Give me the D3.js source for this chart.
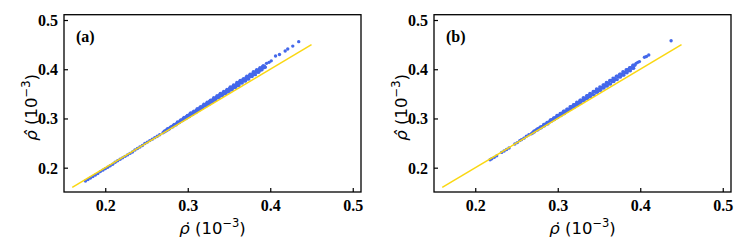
<!DOCTYPE html>
<html>
<head>
<meta charset="utf-8">
<script src="https://cdn.jsdelivr.net/npm/d3@7"></script>
<style>
  body { margin: 0; background: #fff; }
  svg { display: block; }
</style>
</head>
<body>
<div id="plot"></div>
<script>
// Reference line y = x
const lineX = [0.16, 0.45];

// Tick values
const xTicks = [0.2, 0.3, 0.4, 0.5];
const yTicks = [0.2, 0.3, 0.4, 0.5];

// Panel labels
const panelLabels = ["(a)", "(b)"];

// Scatter points for panel (a): [rho_dot, rho_hat]
const pointsA = [
  [0.176,0.173],[0.179,0.176],[0.182,0.179],[0.185,0.182],[0.188,0.185],[0.191,0.188],[0.194,0.192],
  [0.197,0.195],[0.200,0.198],[0.203,0.201],[0.206,0.204],[0.209,0.207],[0.212,0.211],[0.215,0.214],
  [0.218,0.217],[0.221,0.220],[0.224,0.223],[0.227,0.226],[0.230,0.229],[0.233,0.232],[0.236,0.236],
  [0.239,0.239],[0.242,0.242],[0.245,0.245],[0.248,0.249],[0.251,0.252],[0.254,0.255],[0.257,0.258],
  [0.260,0.261],[0.263,0.264],[0.266,0.267],
  // lower row
  [0.270,0.271],[0.274,0.275],[0.278,0.279],[0.282,0.283],[0.286,0.287],[0.290,0.292],[0.294,0.296],
  [0.298,0.300],[0.302,0.304],[0.306,0.308],[0.310,0.312],[0.314,0.317],[0.318,0.321],[0.322,0.325],
  [0.326,0.329],[0.330,0.333],[0.334,0.337],[0.338,0.342],[0.342,0.346],[0.346,0.350],[0.350,0.354],
  [0.354,0.358],[0.358,0.363],[0.362,0.367],[0.366,0.372],[0.370,0.376],[0.374,0.380],[0.378,0.385],
  [0.382,0.389],[0.386,0.394],[0.390,0.399],[0.394,0.404],
  // lower-middle row
  [0.272,0.273],[0.276,0.277],[0.280,0.282],[0.284,0.286],[0.288,0.290],[0.292,0.295],[0.296,0.299],
  [0.300,0.303],[0.304,0.308],[0.308,0.312],[0.312,0.316],[0.316,0.320],[0.320,0.325],[0.324,0.329],
  [0.328,0.333],[0.332,0.337],[0.336,0.342],[0.340,0.346],[0.344,0.350],[0.348,0.354],[0.352,0.358],
  [0.356,0.363],[0.360,0.367],[0.364,0.372],[0.368,0.376],[0.372,0.380],[0.376,0.385],[0.380,0.389],
  [0.384,0.394],[0.388,0.398],[0.392,0.403],
  // middle row
  [0.273,0.275],[0.277,0.279],[0.281,0.284],[0.285,0.288],[0.289,0.292],[0.293,0.297],[0.297,0.301],
  [0.301,0.306],[0.305,0.310],[0.309,0.314],[0.313,0.319],[0.317,0.323],[0.321,0.327],[0.325,0.331],
  [0.329,0.336],[0.333,0.340],[0.337,0.344],[0.341,0.349],[0.345,0.353],[0.349,0.357],[0.353,0.361],
  [0.357,0.366],[0.361,0.370],[0.365,0.375],[0.369,0.379],[0.373,0.383],[0.377,0.388],[0.381,0.392],
  [0.385,0.397],[0.389,0.401],[0.393,0.406],
  // upper-middle row
  [0.2745,0.277],[0.2785,0.281],[0.2825,0.286],[0.2865,0.290],[0.2905,0.295],[0.2945,0.300],[0.2985,0.304],
  [0.3025,0.309],[0.3065,0.313],[0.3105,0.317],[0.3145,0.322],[0.3185,0.326],[0.3225,0.330],[0.3265,0.335],
  [0.3305,0.339],[0.3345,0.343],[0.3385,0.348],[0.3425,0.352],[0.3465,0.356],[0.3505,0.361],[0.3545,0.365],
  [0.3585,0.369],[0.3625,0.374],[0.3665,0.378],[0.3705,0.383],[0.3745,0.387],[0.3785,0.391],[0.3825,0.396],
  [0.3865,0.400],[0.3905,0.405],
  // upper row
  [0.2715,0.274],[0.2755,0.279],[0.2795,0.283],[0.2835,0.288],[0.2875,0.293],[0.2915,0.297],[0.2955,0.302],
  [0.2995,0.306],[0.3035,0.311],[0.3075,0.315],[0.3115,0.320],[0.3155,0.324],[0.3195,0.329],[0.3235,0.333],
  [0.3275,0.337],[0.3315,0.342],[0.3355,0.346],[0.3395,0.351],[0.3435,0.355],[0.3475,0.359],[0.3515,0.364],
  [0.3555,0.368],[0.3595,0.373],[0.3635,0.377],[0.3675,0.381],[0.3715,0.386],[0.3755,0.390],[0.3795,0.395],
  [0.3835,0.399],[0.3875,0.403],[0.3915,0.407],[0.3955,0.412],
  // sparse top
  [0.3985,0.414],[0.4012,0.417],[0.4064,0.427],[0.4112,0.430],[0.4181,0.437],[0.4212,0.441],
  [0.4273,0.447],[0.4345,0.456]
];

// Scatter points for panel (b)
const pointsB = [
  [0.218,0.216],[0.220,0.218],[0.223,0.221],[0.226,0.224],[0.232,0.231],[0.235,0.234],[0.238,0.237],
  [0.241,0.240],[0.248,0.248],[0.251,0.251],[0.254,0.255],[0.256,0.257],[0.259,0.260],[0.262,0.264],
  [0.265,0.267],
  // lower row
  [0.268,0.269],[0.272,0.273],[0.276,0.277],[0.280,0.281],[0.284,0.285],[0.288,0.289],[0.292,0.294],
  [0.296,0.298],[0.300,0.302],[0.304,0.306],[0.308,0.310],[0.312,0.315],[0.316,0.319],[0.320,0.323],
  [0.324,0.327],[0.328,0.331],[0.332,0.336],[0.336,0.340],[0.340,0.344],[0.344,0.348],[0.348,0.353],
  [0.352,0.357],[0.356,0.362],[0.360,0.366],[0.364,0.370],[0.368,0.375],[0.372,0.379],[0.376,0.384],
  [0.380,0.388],[0.384,0.393],[0.388,0.397],[0.392,0.402],
  // lower-middle row
  [0.270,0.271],[0.274,0.276],[0.278,0.280],[0.282,0.284],[0.286,0.288],[0.290,0.293],[0.294,0.297],
  [0.298,0.301],[0.302,0.306],[0.306,0.310],[0.310,0.314],[0.314,0.318],[0.318,0.323],[0.322,0.327],
  [0.326,0.331],[0.330,0.336],[0.334,0.340],[0.338,0.344],[0.342,0.349],[0.346,0.353],[0.350,0.357],
  [0.354,0.362],[0.358,0.366],[0.362,0.370],[0.366,0.375],[0.370,0.379],[0.374,0.384],[0.378,0.388],
  [0.382,0.393],[0.386,0.397],[0.390,0.402],
  // middle row
  [0.2695,0.271],[0.2735,0.276],[0.2775,0.280],[0.2815,0.284],[0.2855,0.289],[0.2895,0.293],[0.2935,0.298],
  [0.2975,0.302],[0.3015,0.306],[0.3055,0.311],[0.3095,0.315],[0.3135,0.319],[0.3175,0.324],[0.3215,0.328],
  [0.3255,0.333],[0.3295,0.337],[0.3335,0.341],[0.3375,0.346],[0.3415,0.350],[0.3455,0.355],[0.3495,0.359],
  [0.3535,0.363],[0.3575,0.368],[0.3615,0.372],[0.3655,0.377],[0.3695,0.381],[0.3735,0.385],[0.3775,0.390],
  [0.3815,0.394],[0.3855,0.399],[0.3895,0.403],[0.3935,0.408],
  // upper-middle row
  [0.272,0.274],[0.276,0.279],[0.280,0.283],[0.284,0.288],[0.288,0.292],[0.292,0.297],[0.296,0.301],
  [0.300,0.306],[0.304,0.310],[0.308,0.315],[0.312,0.319],[0.316,0.324],[0.320,0.328],[0.324,0.332],
  [0.328,0.337],[0.332,0.341],[0.336,0.346],[0.340,0.350],[0.344,0.355],[0.348,0.359],[0.352,0.363],
  [0.356,0.368],[0.360,0.372],[0.364,0.377],[0.368,0.381],[0.372,0.386],[0.376,0.390],[0.380,0.394],
  [0.384,0.399],[0.388,0.403],[0.392,0.408],
  // upper row
  [0.271,0.274],[0.275,0.278],[0.279,0.283],[0.283,0.288],[0.287,0.292],[0.291,0.297],[0.295,0.301],
  [0.299,0.306],[0.303,0.310],[0.307,0.315],[0.311,0.319],[0.315,0.324],[0.319,0.328],[0.323,0.333],
  [0.327,0.337],[0.331,0.342],[0.335,0.346],[0.339,0.351],[0.343,0.355],[0.347,0.360],[0.351,0.364],
  [0.355,0.368],[0.359,0.373],[0.363,0.377],[0.367,0.382],[0.371,0.386],[0.375,0.390],[0.379,0.395],
  [0.383,0.399],[0.387,0.403],[0.391,0.408],[0.395,0.412],
  // sparse top
  [0.397,0.414],[0.399,0.4155],[0.4051,0.4243],[0.4075,0.426],[0.4103,0.429],[0.4374,0.458]
];

const W = 747, H = 250;
const svg = d3.select("#plot").append("svg")
    .attr("width", W)
    .attr("height", H);

const blue = "#4468ea", yellow = "#fad712";
const tickFont = "'Liberation Serif', 'Times New Roman', serif";

function drawPanel(offsetX, points, label) {
    const left = 64, right = 361, top = 14.7, bottom = 192;
    const x = d3.scaleLinear().domain([0.15, 0.51]).range([left, right]);
    const y = d3.scaleLinear().domain([0.1506, 0.5108]).range([bottom, top]);

    const g = svg.append("g").attr("transform", "translate(" + offsetX + ",0)");

    // scatter
    g.append("g").selectAll("circle")
        .data(points)
        .enter()
        .append("circle")
        .attr("cx", d => x(d[0]))
        .attr("cy", d => y(d[1]))
        .attr("r", 1.7)
        .attr("fill", blue);

    // y = x reference
    g.append("line")
        .attr("x1", x(lineX[0])).attr("y1", y(lineX[0]))
        .attr("x2", x(lineX[1])).attr("y2", y(lineX[1]))
        .attr("stroke", yellow)
        .attr("stroke-width", 1.5);

    // axes, ticks inward
    const xAxis = g.append("g")
        .attr("transform", "translate(0," + bottom + ")")
        .call(d3.axisBottom(x).tickValues(xTicks).tickSize(-4).tickPadding(8).tickFormat(d3.format(".1f")));
    const yAxis = g.append("g")
        .attr("transform", "translate(" + left + ",0)")
        .call(d3.axisLeft(y).tickValues(yTicks).tickSize(-4).tickPadding(6).tickFormat(d3.format(".1f")));

    [xAxis, yAxis].forEach(a => {
        a.select(".domain").remove();
        a.selectAll(".tick line").attr("stroke", "#000").attr("stroke-width", 1.2);
        a.selectAll(".tick text")
            .attr("fill", "#000")
            .style("font-family", tickFont)
            .style("font-weight", "bold")
            .style("font-size", "16px");
    });
    yAxis.selectAll(".tick text").attr("dy", "0.34em");

    // frame
    g.append("rect")
        .attr("x", left).attr("y", top)
        .attr("width", right - left).attr("height", bottom - top)
        .attr("fill", "none")
        .attr("stroke", "#000")
        .attr("stroke-width", 1.3);

    // panel label
    g.append("text")
        .attr("x", 76).attr("y", 42)
        .style("font-family", tickFont)
        .style("font-weight", "bold")
        .style("font-size", "16px")
        .text(label);

    // x label
    const xl = g.append("text")
        .attr("x", (left + right) / 2).attr("y", 234)
        .attr("text-anchor", "middle")
        .style("font-family", "'DejaVu Sans', sans-serif")
        .style("font-size", "16.5px");
    xl.append("tspan").style("font-style", "italic").text("\u03c1\u0307");
    xl.append("tspan").text(" (10");
    xl.append("tspan").attr("dy", -7).style("font-size", "11.5px").text("\u22123");
    xl.append("tspan").attr("dy", 7).text(")");

    // y label
    const yl = g.append("text")
        .attr("transform", "translate(37," + ((top + bottom) / 2 + 4) + ") rotate(-90)")
        .attr("text-anchor", "middle")
        .style("font-family", "'DejaVu Sans', sans-serif")
        .style("font-size", "16.5px");
    yl.append("tspan").style("font-style", "italic").text("\u03c1\u0302");
    yl.append("tspan").text(" (10");
    yl.append("tspan").attr("dy", -7).style("font-size", "11.5px").text("\u22123");
    yl.append("tspan").attr("dy", 7).text(")");
}

drawPanel(0, pointsA, panelLabels[0]);
drawPanel(370, pointsB, panelLabels[1]);
</script>
</body>
</html>
